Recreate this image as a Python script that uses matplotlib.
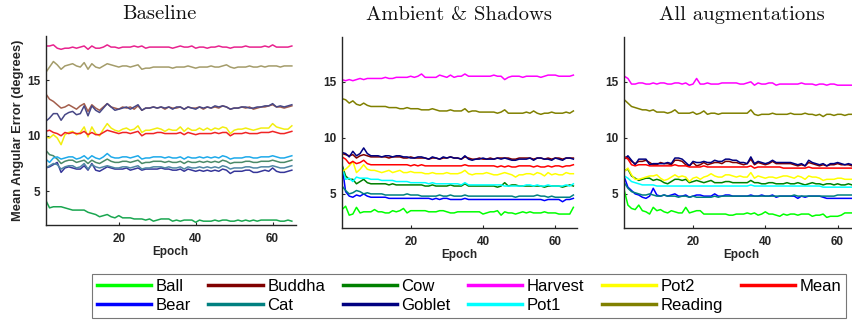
import numpy as np
import matplotlib
matplotlib.use("Agg")
import matplotlib.pyplot as plt

plt.rcParams['font.family'] = ['Liberation Sans', 'DejaVu Sans']

names = ['Ball', 'Bear', 'Buddha', 'Cat', 'Cow', 'Goblet', 'Harvest', 'Pot1', 'Pot2', 'Reading', 'Mean']
titles = ['Baseline', 'Ambient & Shadows', 'All augmentations']

# ---- Baseline ----
base_ball = [4.2, 3.5, 3.6, 3.6, 3.6, 3.5, 3.4, 3.3, 3.3, 3.3, 3.3, 3.1, 3.0, 2.9, 2.7, 2.8, 2.9, 2.7, 2.6, 2.8, 2.6, 2.6, 2.6, 2.5, 2.5, 2.5, 2.4, 2.5, 2.3, 2.4, 2.5, 2.5, 2.5, 2.3, 2.4, 2.3, 2.4, 2.4, 2.4, 2.2, 2.4, 2.3, 2.3, 2.3, 2.4, 2.3, 2.4, 2.4, 2.3, 2.3, 2.4, 2.3, 2.4, 2.3, 2.4, 2.3, 2.4, 2.4, 2.4, 2.4, 2.4, 2.3, 2.3, 2.4, 2.3]
base_bear = [7.1, 7.2, 7.4, 7.6, 6.7, 7.1, 7.2, 7.1, 7.0, 7.0, 7.3, 6.9, 7.5, 6.9, 6.8, 7.0, 7.2, 7.1, 7.0, 7.0, 7.0, 7.1, 6.9, 7.0, 7.1, 6.9, 7.0, 7.0, 7.0, 7.0, 7.1, 7.0, 7.0, 6.9, 6.9, 7.0, 6.8, 7.0, 6.9, 6.8, 6.9, 6.8, 6.9, 6.8, 6.9, 6.8, 7.0, 6.9, 6.6, 6.8, 6.8, 6.8, 6.9, 6.9, 6.7, 6.7, 6.8, 6.9, 6.8, 7.1, 6.8, 6.7, 6.7, 6.8, 6.9]
base_buddha = [13.8, 13.3, 13.1, 12.8, 12.5, 12.6, 12.8, 12.6, 12.4, 12.7, 12.9, 12.2, 12.8, 12.5, 12.3, 12.6, 12.9, 12.6, 12.5, 12.4, 12.6, 12.5, 12.6, 12.4, 12.7, 12.3, 12.5, 12.5, 12.6, 12.5, 12.6, 12.4, 12.6, 12.5, 12.5, 12.6, 12.4, 12.6, 12.5, 12.5, 12.6, 12.4, 12.6, 12.5, 12.6, 12.5, 12.7, 12.6, 12.4, 12.5, 12.5, 12.6, 12.5, 12.6, 12.4, 12.5, 12.6, 12.6, 12.7, 12.8, 12.6, 12.6, 12.5, 12.6, 12.7]
base_cat = [7.1, 7.3, 7.5, 7.4, 7.0, 7.2, 7.3, 7.3, 7.1, 7.2, 7.5, 7.0, 7.4, 7.2, 7.1, 7.2, 7.3, 7.2, 7.1, 7.1, 7.2, 7.2, 7.1, 7.2, 7.3, 7.0, 7.1, 7.1, 7.2, 7.2, 7.2, 7.1, 7.2, 7.1, 7.1, 7.2, 7.0, 7.2, 7.1, 7.1, 7.2, 7.1, 7.2, 7.1, 7.2, 7.1, 7.3, 7.2, 7.0, 7.1, 7.1, 7.1, 7.2, 7.2, 7.1, 7.1, 7.2, 7.2, 7.2, 7.3, 7.2, 7.1, 7.1, 7.2, 7.3]
base_cow = [8.7, 8.3, 8.2, 7.9, 7.5, 7.7, 7.8, 7.8, 7.6, 7.7, 7.8, 7.5, 7.8, 7.6, 7.5, 7.7, 7.9, 7.7, 7.6, 7.6, 7.7, 7.7, 7.6, 7.7, 7.8, 7.5, 7.6, 7.6, 7.7, 7.7, 7.7, 7.6, 7.7, 7.6, 7.6, 7.7, 7.5, 7.7, 7.6, 7.6, 7.7, 7.6, 7.7, 7.6, 7.7, 7.6, 7.8, 7.7, 7.5, 7.6, 7.6, 7.6, 7.7, 7.7, 7.6, 7.6, 7.7, 7.7, 7.7, 7.8, 7.7, 7.6, 7.6, 7.7, 7.8]
base_goblet = [11.3, 11.6, 12.0, 12.0, 11.4, 11.9, 12.1, 12.2, 11.9, 12.0, 12.7, 11.8, 12.7, 12.3, 12.1, 12.5, 12.9, 12.6, 12.3, 12.4, 12.5, 12.6, 12.4, 12.6, 12.8, 12.3, 12.5, 12.5, 12.6, 12.5, 12.6, 12.5, 12.6, 12.4, 12.6, 12.6, 12.4, 12.6, 12.5, 12.4, 12.6, 12.5, 12.6, 12.5, 12.7, 12.6, 12.7, 12.6, 12.4, 12.5, 12.5, 12.6, 12.6, 12.5, 12.5, 12.6, 12.6, 12.7, 12.7, 12.9, 12.6, 12.7, 12.6, 12.7, 12.8]
base_harvest = [18.1, 18.1, 18.2, 17.9, 17.8, 17.9, 17.9, 18.0, 17.9, 18.0, 18.1, 17.8, 18.1, 17.9, 17.9, 18.0, 18.2, 18.0, 18.0, 17.9, 18.0, 18.0, 18.0, 18.1, 18.0, 18.1, 17.9, 18.0, 18.0, 18.0, 18.0, 18.0, 18.0, 17.9, 18.0, 18.1, 18.0, 18.0, 18.1, 17.9, 18.0, 18.0, 17.9, 18.0, 18.0, 18.1, 18.0, 18.0, 17.9, 18.0, 18.0, 18.0, 18.1, 18.0, 18.0, 18.0, 18.0, 18.1, 18.0, 18.2, 18.0, 18.0, 18.0, 18.0, 18.1]
base_pot1 = [7.9, 7.6, 8.0, 8.1, 7.9, 8.0, 8.1, 8.1, 7.9, 8.0, 8.2, 7.9, 8.2, 8.0, 7.9, 8.1, 8.4, 8.1, 8.0, 8.0, 8.1, 8.1, 8.0, 8.1, 8.2, 7.9, 8.0, 8.0, 8.1, 8.1, 8.1, 8.0, 8.1, 8.0, 8.0, 8.1, 7.9, 8.1, 8.0, 8.0, 8.1, 8.0, 8.1, 8.0, 8.1, 8.0, 8.2, 8.1, 7.9, 8.0, 8.0, 8.0, 8.1, 8.1, 8.0, 8.0, 8.1, 8.1, 8.1, 8.2, 8.1, 8.0, 8.0, 8.1, 8.2]
base_pot2 = [9.9, 9.8, 10.1, 9.8, 9.2, 10.1, 10.3, 10.4, 10.1, 10.3, 10.8, 9.9, 10.8, 10.2, 10.0, 10.6, 11.1, 10.7, 10.5, 10.4, 10.6, 10.7, 10.5, 10.6, 10.9, 10.3, 10.5, 10.5, 10.6, 10.7, 10.6, 10.4, 10.6, 10.5, 10.5, 10.8, 10.4, 10.7, 10.5, 10.5, 10.7, 10.5, 10.7, 10.5, 10.7, 10.6, 10.8, 10.7, 10.2, 10.5, 10.6, 10.6, 10.7, 10.6, 10.5, 10.6, 10.7, 10.7, 10.7, 11.1, 10.8, 10.7, 10.6, 10.6, 10.9]
base_reading = [15.7, 16.2, 16.7, 16.4, 16.0, 16.3, 16.4, 16.5, 16.3, 16.2, 16.6, 16.0, 16.5, 16.2, 16.1, 16.3, 16.5, 16.4, 16.3, 16.2, 16.3, 16.3, 16.2, 16.3, 16.4, 16.0, 16.1, 16.1, 16.2, 16.2, 16.2, 16.2, 16.2, 16.1, 16.2, 16.2, 16.2, 16.3, 16.2, 16.1, 16.2, 16.2, 16.2, 16.3, 16.2, 16.2, 16.3, 16.4, 16.2, 16.1, 16.2, 16.2, 16.2, 16.3, 16.2, 16.2, 16.3, 16.2, 16.3, 16.3, 16.3, 16.2, 16.3, 16.3, 16.3]
base_mean = [10.4, 10.5, 10.3, 10.2, 10.0, 10.3, 10.2, 10.3, 10.2, 10.2, 10.4, 10.1, 10.3, 10.1, 10.1, 10.3, 10.5, 10.4, 10.3, 10.2, 10.3, 10.3, 10.2, 10.3, 10.4, 10.0, 10.2, 10.2, 10.2, 10.3, 10.3, 10.2, 10.2, 10.2, 10.2, 10.3, 10.1, 10.3, 10.2, 10.1, 10.2, 10.2, 10.2, 10.2, 10.3, 10.2, 10.3, 10.3, 10.0, 10.2, 10.2, 10.2, 10.3, 10.2, 10.2, 10.2, 10.3, 10.3, 10.3, 10.4, 10.3, 10.2, 10.2, 10.3, 10.4]

# ---- Ambient & Shadows ----
amb_ball = [3.6, 3.9, 3.1, 3.2, 3.8, 3.3, 3.4, 3.4, 3.4, 3.6, 3.4, 3.4, 3.3, 3.3, 3.5, 3.4, 3.5, 3.7, 3.3, 3.5, 3.5, 3.5, 3.5, 3.5, 3.4, 3.4, 3.4, 3.5, 3.5, 3.4, 3.3, 3.3, 3.4, 3.4, 3.4, 3.4, 3.4, 3.4, 3.4, 3.2, 3.3, 3.4, 3.4, 3.5, 3.1, 3.4, 3.3, 3.3, 3.2, 3.3, 3.4, 3.3, 3.4, 3.3, 3.3, 3.3, 3.4, 3.3, 3.3, 3.3, 3.2, 3.2, 3.2, 3.2, 3.8]
amb_bear = [7.6, 5.2, 4.8, 4.7, 4.9, 4.8, 5.0, 4.8, 4.7, 4.7, 4.7, 4.7, 4.7, 4.6, 4.6, 4.6, 4.6, 4.6, 4.6, 4.6, 4.6, 4.6, 4.6, 4.6, 4.6, 4.5, 4.6, 4.5, 4.6, 4.6, 4.5, 4.5, 4.5, 4.5, 4.6, 4.5, 4.5, 4.5, 4.5, 4.5, 4.5, 4.5, 4.5, 4.5, 4.5, 4.5, 4.5, 4.5, 4.5, 4.5, 4.5, 4.5, 4.5, 4.5, 4.5, 4.5, 4.4, 4.5, 4.5, 4.5, 4.5, 4.3, 4.5, 4.5, 4.6]
amb_buddha = [8.6, 8.5, 8.4, 8.5, 8.2, 8.4, 8.5, 8.4, 8.3, 8.3, 8.3, 8.3, 8.3, 8.2, 8.3, 8.3, 8.3, 8.2, 8.2, 8.3, 8.2, 8.2, 8.2, 8.2, 8.1, 8.2, 8.2, 8.1, 8.2, 8.2, 8.3, 8.2, 8.2, 8.1, 8.3, 8.2, 8.1, 8.1, 8.2, 8.1, 8.1, 8.2, 8.1, 8.2, 8.2, 8.2, 8.2, 8.1, 8.1, 8.2, 8.2, 8.2, 8.2, 8.1, 8.2, 8.2, 8.1, 8.2, 8.1, 8.2, 8.2, 8.1, 8.2, 8.2, 8.2]
amb_cat = [5.7, 5.3, 5.0, 5.1, 5.3, 5.2, 5.0, 5.1, 5.0, 5.0, 5.0, 5.0, 4.9, 4.9, 4.9, 4.9, 4.9, 4.9, 5.0, 4.9, 4.9, 4.9, 4.8, 4.8, 4.8, 4.8, 4.8, 4.9, 4.8, 4.8, 4.9, 4.8, 4.8, 4.8, 4.9, 4.8, 4.8, 4.8, 4.8, 4.8, 4.8, 4.8, 4.8, 4.8, 4.8, 4.8, 4.8, 4.8, 4.7, 4.8, 4.8, 4.8, 4.8, 4.8, 4.9, 4.8, 4.8, 4.7, 4.8, 4.7, 4.7, 4.7, 4.7, 4.7, 4.9]
amb_cow = [7.6, 6.6, 6.3, 6.3, 5.9, 6.1, 6.3, 6.0, 5.9, 5.9, 5.9, 5.9, 5.9, 5.8, 5.9, 5.8, 5.8, 5.8, 5.8, 5.8, 5.8, 5.8, 5.8, 5.7, 5.7, 5.8, 5.7, 5.7, 5.7, 5.7, 5.8, 5.7, 5.7, 5.7, 5.9, 5.7, 5.7, 5.7, 5.7, 5.7, 5.7, 5.7, 5.7, 5.6, 5.7, 6.0, 5.7, 5.8, 5.8, 5.7, 5.7, 5.7, 5.7, 5.7, 5.7, 5.7, 5.6, 5.7, 5.7, 5.7, 5.7, 5.6, 5.7, 5.8, 5.7]
amb_goblet = [8.7, 8.6, 8.3, 8.8, 8.4, 8.6, 9.1, 8.6, 8.4, 8.4, 8.4, 8.3, 8.4, 8.4, 8.3, 8.4, 8.4, 8.3, 8.3, 8.2, 8.2, 8.3, 8.3, 8.2, 8.1, 8.3, 8.2, 8.1, 8.3, 8.2, 8.3, 8.2, 8.2, 8.1, 8.4, 8.1, 8.0, 8.1, 8.1, 8.2, 8.1, 8.1, 8.1, 8.2, 8.1, 8.2, 8.1, 8.0, 8.0, 8.1, 8.1, 8.1, 8.2, 8.0, 8.2, 8.2, 8.1, 8.1, 8.0, 8.2, 8.1, 8.0, 8.2, 8.2, 8.1]
amb_harvest = [15.2, 15.1, 15.2, 15.1, 15.2, 15.3, 15.2, 15.3, 15.3, 15.3, 15.3, 15.3, 15.4, 15.3, 15.3, 15.4, 15.4, 15.4, 15.4, 15.5, 15.4, 15.5, 15.7, 15.4, 15.4, 15.4, 15.4, 15.6, 15.5, 15.4, 15.6, 15.4, 15.5, 15.5, 15.7, 15.5, 15.5, 15.5, 15.5, 15.5, 15.5, 15.5, 15.6, 15.5, 15.5, 15.2, 15.4, 15.5, 15.5, 15.5, 15.4, 15.5, 15.5, 15.5, 15.5, 15.4, 15.5, 15.6, 15.6, 15.6, 15.5, 15.5, 15.5, 15.5, 15.6]
amb_pot1 = [7.4, 6.3, 6.4, 6.1, 6.5, 6.4, 6.4, 6.4, 6.3, 6.3, 6.3, 6.2, 6.2, 6.2, 6.2, 6.1, 6.1, 6.1, 6.1, 6.0, 6.0, 6.0, 6.0, 6.0, 5.9, 6.0, 5.9, 5.9, 5.9, 5.9, 5.9, 5.9, 5.9, 5.8, 6.0, 5.8, 5.8, 5.8, 5.8, 5.8, 5.8, 5.8, 5.8, 5.8, 5.8, 5.7, 5.7, 5.7, 5.7, 5.7, 5.7, 5.8, 5.8, 5.7, 5.8, 5.7, 5.7, 5.8, 5.7, 5.7, 5.7, 5.7, 5.8, 5.7, 5.9]
amb_pot2 = [7.0, 7.2, 7.5, 7.9, 6.9, 7.2, 7.6, 7.2, 7.1, 7.1, 7.0, 6.9, 7.0, 7.1, 6.9, 7.0, 7.1, 6.9, 6.9, 7.0, 6.9, 6.9, 6.9, 6.8, 6.8, 6.9, 6.8, 6.8, 6.8, 6.9, 6.8, 6.8, 6.8, 6.9, 7.1, 6.8, 6.7, 6.8, 6.8, 6.8, 6.9, 6.8, 6.7, 6.7, 6.8, 6.9, 6.8, 6.7, 6.5, 6.7, 6.7, 6.8, 6.8, 6.7, 6.9, 6.8, 6.6, 6.9, 6.7, 6.8, 6.7, 6.7, 6.9, 6.8, 6.8]
amb_reading = [13.5, 13.4, 13.1, 13.3, 13.0, 12.9, 13.1, 12.9, 12.8, 12.8, 12.8, 12.8, 12.8, 12.7, 12.7, 12.7, 12.6, 12.6, 12.7, 12.6, 12.6, 12.6, 12.5, 12.5, 12.5, 12.6, 12.5, 12.4, 12.4, 12.4, 12.5, 12.4, 12.4, 12.4, 12.6, 12.3, 12.4, 12.4, 12.3, 12.3, 12.3, 12.3, 12.3, 12.2, 12.3, 12.5, 12.2, 12.2, 12.2, 12.2, 12.2, 12.3, 12.2, 12.4, 12.2, 12.1, 12.2, 12.2, 12.3, 12.2, 12.2, 12.2, 12.3, 12.2, 12.4]
amb_mean = [8.3, 8.1, 7.7, 7.9, 7.7, 7.8, 8.0, 7.7, 7.6, 7.6, 7.6, 7.6, 7.6, 7.6, 7.6, 7.6, 7.6, 7.6, 7.6, 7.5, 7.6, 7.5, 7.6, 7.5, 7.5, 7.5, 7.5, 7.5, 7.5, 7.5, 7.5, 7.5, 7.5, 7.5, 7.6, 7.5, 7.5, 7.5, 7.5, 7.5, 7.5, 7.5, 7.5, 7.4, 7.5, 7.4, 7.5, 7.4, 7.4, 7.5, 7.5, 7.5, 7.5, 7.4, 7.5, 7.4, 7.4, 7.5, 7.4, 7.5, 7.5, 7.4, 7.5, 7.5, 7.6]

# ---- All augmentations ----
aug_ball = [5.3, 4.0, 3.7, 3.6, 4.0, 3.5, 3.4, 3.2, 3.8, 3.5, 3.6, 3.4, 3.3, 3.5, 3.4, 3.3, 3.3, 3.8, 3.3, 3.4, 3.5, 3.5, 3.2, 3.2, 3.2, 3.2, 3.2, 3.2, 3.2, 3.1, 3.1, 3.2, 3.2, 3.2, 3.3, 3.2, 3.3, 3.1, 3.2, 3.4, 3.2, 3.2, 3.1, 3.0, 3.2, 3.1, 3.2, 3.2, 3.1, 3.2, 3.2, 3.2, 3.0, 3.1, 3.1, 3.2, 2.9, 3.0, 3.0, 3.0, 3.1, 3.3, 3.3, 3.3, 3.3]
aug_bear = [6.5, 5.6, 5.3, 5.0, 4.9, 4.7, 4.6, 4.8, 5.5, 4.9, 4.8, 4.9, 4.8, 4.9, 5.0, 4.8, 4.8, 4.9, 4.7, 4.8, 4.9, 4.9, 4.8, 4.8, 4.8, 5.0, 4.8, 4.8, 4.9, 4.9, 4.8, 4.8, 4.8, 4.8, 4.8, 4.9, 4.8, 4.8, 4.9, 4.8, 4.8, 4.9, 4.7, 4.8, 4.8, 4.8, 4.8, 4.8, 4.6, 4.8, 4.7, 4.8, 4.8, 4.8, 4.8, 4.7, 4.6, 4.6, 4.6, 4.6, 4.6, 4.6, 4.6, 4.6, 4.7]
aug_buddha = [8.3, 8.2, 7.9, 7.7, 7.9, 7.9, 8.0, 7.8, 7.6, 7.6, 7.8, 7.7, 7.7, 7.6, 8.0, 8.0, 7.9, 7.6, 7.5, 7.8, 7.5, 7.6, 7.8, 7.6, 7.7, 7.8, 7.8, 7.7, 7.9, 7.9, 7.8, 7.8, 7.7, 7.6, 7.7, 8.1, 7.6, 7.8, 7.7, 7.6, 7.7, 7.9, 7.7, 7.7, 7.7, 7.7, 7.7, 7.6, 7.5, 7.6, 7.5, 7.8, 7.7, 7.6, 7.5, 7.6, 7.5, 7.6, 7.6, 7.7, 7.6, 7.6, 7.6, 7.5, 7.5]
aug_cat = [6.0, 5.5, 5.2, 5.1, 5.0, 4.9, 4.9, 5.0, 4.9, 4.8, 4.8, 4.9, 4.8, 4.8, 4.8, 4.7, 4.8, 4.8, 4.7, 4.8, 4.7, 4.7, 4.7, 4.7, 4.7, 4.8, 4.7, 4.8, 4.8, 4.8, 4.8, 4.8, 4.8, 4.8, 4.8, 4.8, 4.8, 4.8, 4.8, 4.8, 4.8, 4.8, 4.8, 4.8, 4.8, 4.8, 4.8, 4.9, 4.8, 4.8, 4.8, 4.8, 4.8, 4.8, 4.8, 4.8, 4.8, 4.8, 4.8, 4.9, 4.9, 4.9, 4.9, 4.9, 4.9]
aug_cow = [7.1, 7.2, 6.6, 6.4, 6.2, 6.3, 6.4, 6.4, 6.2, 6.3, 6.2, 6.0, 5.9, 6.1, 6.3, 6.3, 6.2, 6.3, 6.0, 6.1, 6.2, 6.1, 6.0, 6.1, 6.2, 6.0, 6.0, 6.0, 6.1, 6.1, 6.0, 6.0, 6.0, 6.0, 6.0, 6.2, 6.0, 6.0, 5.9, 5.9, 6.0, 6.0, 5.9, 5.9, 5.9, 6.0, 5.9, 5.9, 6.0, 5.9, 5.8, 5.9, 6.0, 5.9, 5.9, 5.8, 5.9, 5.9, 5.8, 5.9, 5.8, 5.8, 5.9, 5.8, 5.8]
aug_goblet = [8.1, 8.4, 8.0, 7.6, 8.1, 8.1, 8.1, 7.6, 7.7, 7.7, 7.7, 7.7, 7.8, 7.7, 8.2, 8.2, 8.1, 7.8, 7.5, 7.9, 7.8, 7.8, 7.9, 7.8, 7.8, 8.0, 7.9, 7.9, 8.1, 8.1, 8.0, 8.0, 7.8, 7.8, 7.7, 8.3, 7.7, 7.9, 7.8, 7.7, 7.8, 8.0, 7.8, 7.8, 7.8, 7.8, 7.8, 7.7, 7.6, 7.7, 7.5, 8.0, 7.8, 7.7, 7.6, 7.7, 7.5, 7.7, 7.7, 7.8, 7.7, 7.6, 7.7, 7.6, 7.6]
aug_harvest = [15.5, 15.3, 14.8, 14.8, 14.9, 14.9, 14.8, 14.8, 14.9, 14.8, 14.9, 14.9, 14.8, 14.8, 14.9, 14.9, 14.8, 14.9, 14.7, 14.8, 15.3, 14.8, 14.8, 14.9, 14.8, 14.8, 14.8, 14.9, 14.9, 14.9, 14.9, 14.9, 14.8, 14.8, 14.9, 15.0, 14.7, 14.9, 14.8, 14.8, 14.9, 14.9, 14.7, 14.8, 14.8, 14.8, 14.8, 14.8, 14.8, 14.9, 14.8, 14.8, 14.8, 14.7, 14.8, 14.8, 14.7, 14.8, 14.8, 14.7, 14.7, 14.7, 14.7, 14.7, 14.7]
aug_pot1 = [6.6, 6.4, 6.1, 6.0, 5.9, 5.8, 5.8, 5.8, 5.8, 5.7, 5.7, 5.7, 5.7, 5.7, 5.7, 5.7, 5.7, 5.7, 5.7, 5.7, 5.7, 5.7, 5.7, 5.7, 5.7, 5.7, 5.7, 5.7, 5.7, 5.7, 5.7, 5.7, 5.7, 5.7, 5.7, 5.8, 5.7, 5.7, 5.7, 5.7, 5.7, 5.7, 5.7, 5.7, 5.7, 5.7, 5.7, 5.7, 5.7, 5.7, 5.7, 5.7, 5.7, 5.7, 5.7, 5.6, 5.6, 5.6, 5.6, 5.6, 5.6, 5.6, 5.6, 5.6, 5.6]
aug_pot2 = [7.0, 7.3, 6.7, 6.3, 6.3, 6.4, 6.5, 6.6, 6.6, 6.7, 6.4, 6.2, 6.3, 6.5, 6.7, 6.5, 6.6, 6.5, 6.1, 6.4, 6.5, 6.3, 6.5, 6.6, 6.8, 6.6, 6.5, 6.5, 6.7, 6.7, 6.6, 6.5, 6.6, 6.5, 6.5, 6.9, 6.4, 6.6, 6.5, 6.4, 6.5, 6.5, 6.4, 6.5, 6.6, 6.6, 6.5, 6.4, 6.6, 6.5, 6.3, 6.6, 6.5, 6.5, 6.4, 6.2, 6.3, 6.3, 6.3, 6.4, 6.4, 6.3, 6.3, 6.3, 6.3]
aug_reading = [13.4, 13.1, 12.8, 12.7, 12.6, 12.5, 12.5, 12.4, 12.5, 12.3, 12.3, 12.3, 12.2, 12.3, 12.5, 12.2, 12.2, 12.2, 12.2, 12.3, 12.1, 12.2, 12.4, 12.1, 12.2, 12.2, 12.1, 12.2, 12.2, 12.2, 12.2, 12.2, 12.2, 12.2, 12.2, 12.5, 12.1, 12.0, 12.1, 12.1, 12.1, 12.2, 12.1, 12.1, 12.1, 12.1, 12.2, 12.1, 12.1, 12.1, 12.2, 12.1, 12.1, 12.0, 12.1, 11.9, 12.1, 12.1, 12.0, 12.1, 12.1, 12.0, 12.1, 12.1, 12.1]
aug_mean = [8.3, 8.1, 7.6, 7.5, 7.6, 7.6, 7.6, 7.5, 7.5, 7.5, 7.5, 7.5, 7.5, 7.5, 7.6, 7.5, 7.5, 7.5, 7.4, 7.4, 7.4, 7.4, 7.5, 7.4, 7.4, 7.4, 7.4, 7.4, 7.4, 7.4, 7.4, 7.4, 7.4, 7.4, 7.4, 7.5, 7.3, 7.4, 7.4, 7.4, 7.4, 7.4, 7.4, 7.4, 7.3, 7.3, 7.3, 7.3, 7.3, 7.3, 7.3, 7.4, 7.3, 7.3, 7.3, 7.3, 7.3, 7.3, 7.3, 7.3, 7.3, 7.3, 7.3, 7.3, 7.3]

# colours: baseline figure uses a muted palette, the other two the pure ones
base_colors = ['#1aa650', '#36369a', '#a35e4c', '#4f86a4', '#4a8a68', '#474786',
               '#e8228e', '#1eaaea', '#f2ee10', '#a49c6a', '#f02424']
pure_colors = ['#00ff00', '#0000ff', '#800000', '#008080', '#008000', '#000080',
               '#ff00ff', '#00ffff', '#ffff00', '#808000', '#ff0000']

panels = [
    ([base_ball, base_bear, base_buddha, base_cat, base_cow, base_goblet,
      base_harvest, base_pot1, base_pot2, base_reading, base_mean], base_colors),
    ([amb_ball, amb_bear, amb_buddha, amb_cat, amb_cow, amb_goblet,
      amb_harvest, amb_pot1, amb_pot2, amb_reading, amb_mean], pure_colors),
    ([aug_ball, aug_bear, aug_buddha, aug_cat, aug_cow, aug_goblet,
      aug_harvest, aug_pot1, aug_pot2, aug_reading, aug_mean], pure_colors),
]

W, H = 852, 320
fig = plt.figure(figsize=(W / 100, H / 100), dpi=100)

# axes rectangles in pixels: left, top, width, height
rects = [(45.7, 36, 250, 188.5), (342, 37, 235, 190.5), (624.3, 37, 235, 190.5)]
title_x = [0.455, 0.5, 0.5]

axes = []
for k, ((series, colors), (l, t, w, h)) in enumerate(zip(panels, rects)):
    ax = fig.add_axes([l / W, 1 - (t + h) / H, w / W, h / H])
    for y, c in zip(series, colors):
        x = np.arange(1, len(y) + 1)
        ax.plot(x, y, color=c, lw=1.1)
    ax.set_xlim(1, 66)
    ax.set_ylim(2, 19)
    ax.set_xticks([20, 40, 60])
    ax.set_yticks([5, 10, 15])
    for s in ['top', 'right']:
        ax.spines[s].set_visible(False)
    for s in ['left', 'bottom']:
        ax.spines[s].set_color('#262626')
        ax.spines[s].set_linewidth(1.0)
    ax.tick_params(direction='in', length=2.5, width=0.8, color='#262626',
                   labelsize=8.5, labelcolor='#262626')
    ax.tick_params(axis='x', pad=6)
    ax.tick_params(axis='y', pad=4)
    for lab in ax.get_xticklabels() + ax.get_yticklabels():
        lab.set_fontweight('bold')
    ax.set_xlabel('Epoch', fontsize=8.5, fontweight='bold', color='#262626', labelpad=1)
    ax.set_title(titles[k], fontsize=14.8, x=title_x[k], pad=12.5, color='#111111',
                 family=['cmr10', 'DejaVu Serif'])
    axes.append(ax)

axes[0].set_ylabel('Mean Angular Error (degrees)', fontsize=9.3, fontweight='bold',
                   color='#262626', labelpad=2)

# legend built from the pure-colour panel
handles = axes[1].get_lines()
leg = fig.legend(handles, names, ncol=6, loc='center',
                 bbox_to_anchor=(469 / W, 1 - 295.8 / H),
                 prop={'family': ['Liberation Sans', 'DejaVu Sans'], 'size': 12},
                 handlelength=3.25, handletextpad=0.28, columnspacing=1.05,
                 labelspacing=0.22, borderpad=0.3, fancybox=False, frameon=True)
leg.get_frame().set_edgecolor('#555555')
leg.get_frame().set_linewidth(0.8)
for ln in leg.get_lines():
    ln.set_linewidth(2.5)

fig.savefig('out.png', dpi=100)
